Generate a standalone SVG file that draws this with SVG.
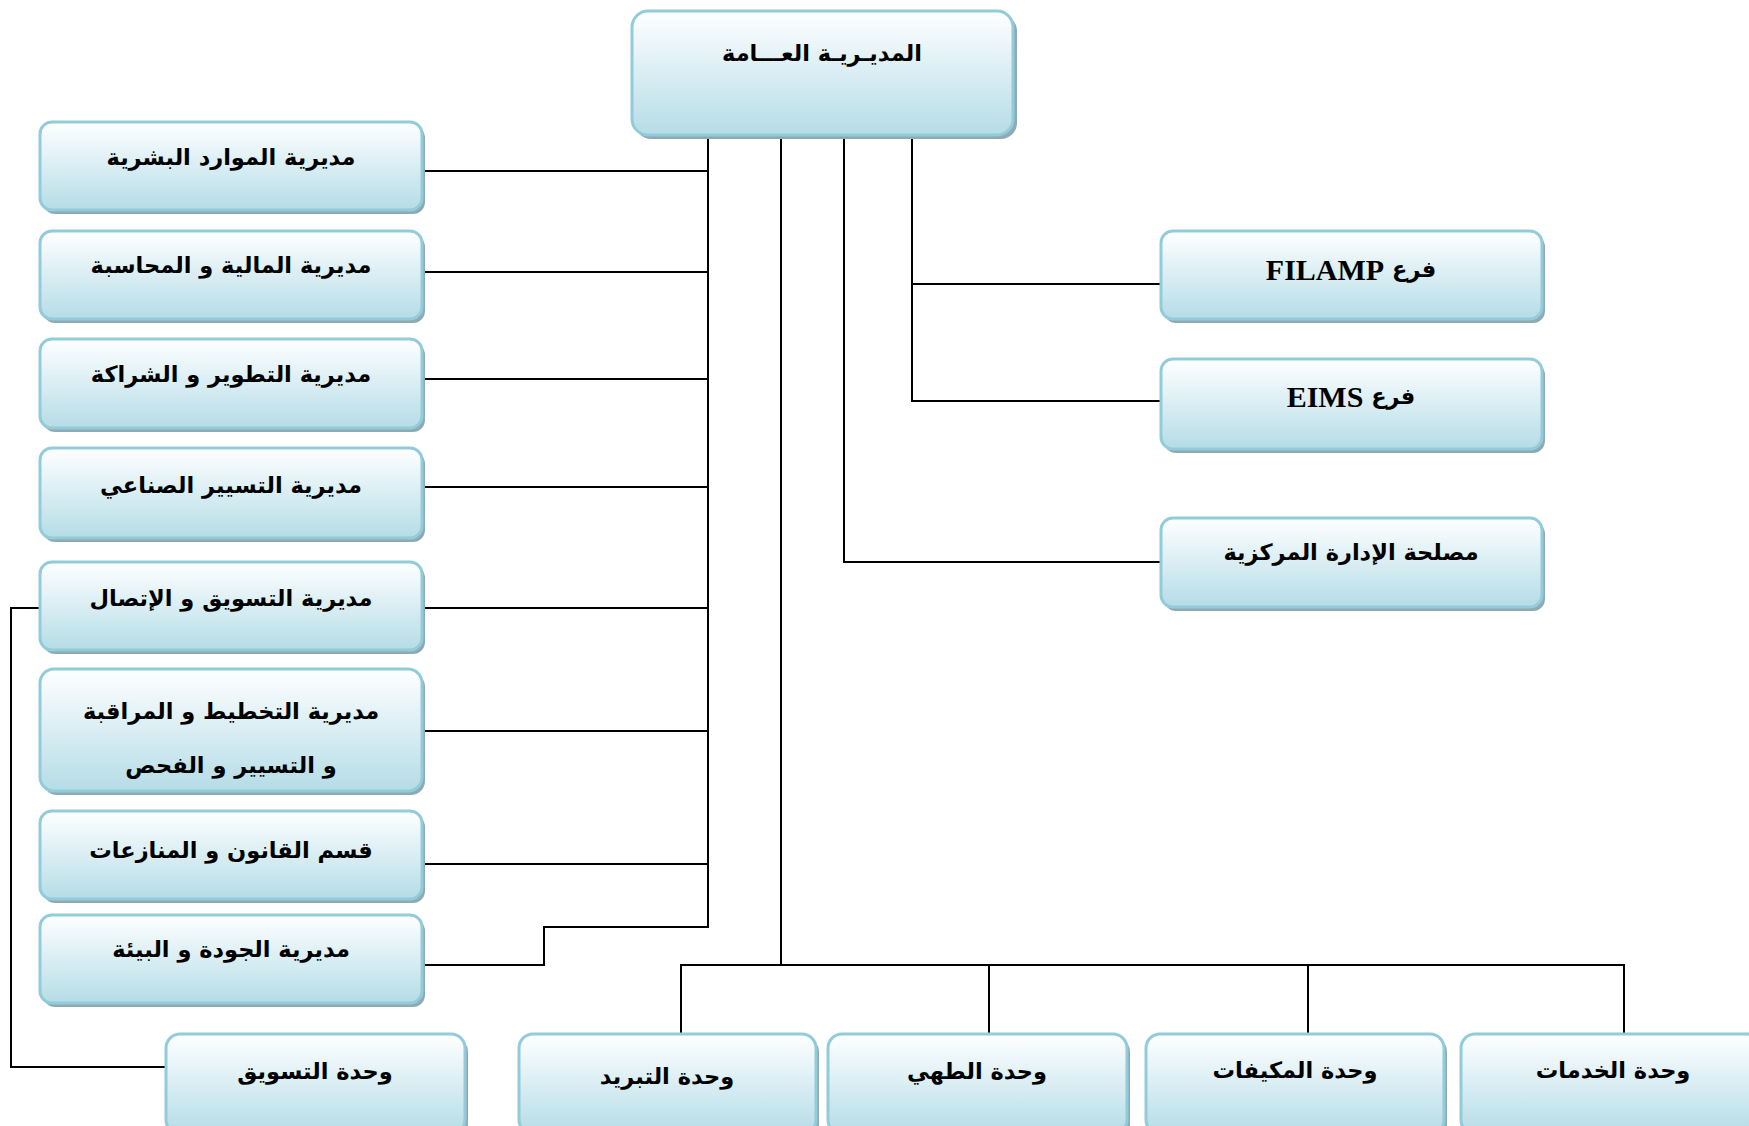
<svg xmlns="http://www.w3.org/2000/svg" width="1749" height="1126" viewBox="0 0 1749 1126">
  <style>
    .box { fill: url(#boxFill); stroke: #92cbd9; stroke-width: 3; }
    .shadow { fill: #8eabb3; }
    .lbl { font-family: "DejaVu Sans", sans-serif; font-size: 22.5px; font-weight: bold; fill: #000; text-anchor: middle; dominant-baseline: central; direction: rtl; }
    .lat { font-family: "Liberation Serif", serif; font-size: 30px; font-weight: bold; }
    .wire { fill: none; stroke: #000; stroke-width: 2; }
  </style>
  <defs>
    <linearGradient id="boxFill" x1="0" y1="0" x2="0" y2="1">
      <stop offset="0" stop-color="#ffffff"/>
      <stop offset="0.55" stop-color="#d6ecf2"/>
      <stop offset="1" stop-color="#b5dce6"/>
    </linearGradient>
  </defs>
  <rect width="1749" height="1126" fill="#ffffff"/>

  <!-- connectors -->
  <g id="connectors">
    <!-- left trunk and branches -->
    <path class="wire" d="M708 137 V927 H544 V965 H422"/>
    <path class="wire" d="M422 171 H708 M422 272 H708 M422 379 H708 M422 487 H708 M422 608 H708 M422 731 H708 M422 864 H708"/>
    <!-- marketing unit link -->
    <path class="wire" d="M40 608 H11 V1067 H166"/>
    <!-- right branches -->
    <path class="wire" d="M912 137 V401 H1161 M912 284 H1161"/>
    <path class="wire" d="M844 137 V562 H1161"/>
    <!-- production units bus -->
    <path class="wire" d="M781 137 V965"/>
    <path class="wire" d="M681 1034 V965 H1624 V1034 M989 965 V1034 M1308 965 V1034"/>
  </g>

  <!-- top node -->
  <g id="n-general">
    <rect class="shadow" x="635" y="15" width="382" height="124" rx="16"/>
    <rect class="box" x="632" y="11" width="381" height="124" rx="16"/>
    <text class="lbl" x="822" y="53" font-size="23.5">المديـريـة العـــامة</text>
  </g>

  <!-- left column -->
  <g id="n-hr">
    <rect class="shadow" x="43" y="126" width="382" height="88" rx="12"/>
    <rect class="box" x="40" y="122" width="382" height="88" rx="12"/>
    <text class="lbl" x="231" y="157">مديرية الموارد البشرية</text>
  </g>
  <g id="n-finance">
    <rect class="shadow" x="43" y="235" width="382" height="88" rx="12"/>
    <rect class="box" x="40" y="231" width="382" height="88" rx="12"/>
    <text class="lbl" x="231" y="265">مديرية المالية و المحاسبة</text>
  </g>
  <g id="n-dev">
    <rect class="shadow" x="43" y="343" width="382" height="89" rx="12"/>
    <rect class="box" x="40" y="339" width="382" height="89" rx="12"/>
    <text class="lbl" x="231" y="374">مديرية التطوير و الشراكة</text>
  </g>
  <g id="n-industrial">
    <rect class="shadow" x="43" y="452" width="382" height="90" rx="12"/>
    <rect class="box" x="40" y="448" width="382" height="90" rx="12"/>
    <text class="lbl" x="231" y="485">مديرية التسيير الصناعي</text>
  </g>
  <g id="n-marketing">
    <rect class="shadow" x="43" y="566" width="382" height="88" rx="12"/>
    <rect class="box" x="40" y="562" width="382" height="88" rx="12"/>
    <text class="lbl" x="231" y="598">مديرية التسويق و الإتصال</text>
  </g>
  <g id="n-planning">
    <rect class="shadow" x="43" y="673" width="382" height="122" rx="14"/>
    <rect class="box" x="40" y="669" width="382" height="122" rx="14"/>
    <text class="lbl" x="231" y="711">مديرية التخطيط و المراقبة</text>
    <text class="lbl" x="231" y="765">و التسيير  و الفحص</text>
  </g>
  <g id="n-legal">
    <rect class="shadow" x="43" y="815" width="382" height="88" rx="12"/>
    <rect class="box" x="40" y="811" width="382" height="88" rx="12"/>
    <text class="lbl" x="231" y="850">قسم القانون و المنازعات</text>
  </g>
  <g id="n-quality">
    <rect class="shadow" x="43" y="919" width="382" height="88" rx="12"/>
    <rect class="box" x="40" y="915" width="382" height="88" rx="12"/>
    <text class="lbl" x="231" y="949">مديرية الجودة و البيئة</text>
  </g>

  <!-- right column -->
  <g id="n-filamp">
    <rect class="shadow" x="1164" y="235" width="381" height="88" rx="12"/>
    <rect class="box" x="1161" y="231" width="381" height="88" rx="12"/>
    <text class="lbl" x="1351" y="269" font-size="26">فرع <tspan class="lat">FILAMP</tspan></text>
  </g>
  <g id="n-eims">
    <rect class="shadow" x="1164" y="363" width="381" height="90" rx="12"/>
    <rect class="box" x="1161" y="359" width="381" height="90" rx="12"/>
    <text class="lbl" x="1351" y="396" font-size="26">فرع <tspan class="lat">EIMS</tspan></text>
  </g>
  <g id="n-admin">
    <rect class="shadow" x="1164" y="522" width="381" height="89" rx="12"/>
    <rect class="box" x="1161" y="518" width="381" height="89" rx="12"/>
    <text class="lbl" x="1351" y="552">مصلحة الإدارة المركزية</text>
  </g>

  <!-- bottom row of units -->
  <g id="n-u-marketing">
    <rect class="shadow" x="169" y="1038" width="299" height="100" rx="14"/>
    <rect class="box" x="166" y="1034" width="299" height="100" rx="14"/>
    <text class="lbl" x="315" y="1071">وحدة التسويق</text>
  </g>
  <g id="n-u-cooling">
    <rect class="shadow" x="522" y="1038" width="297" height="100" rx="14"/>
    <rect class="box" x="519" y="1034" width="297" height="100" rx="14"/>
    <text class="lbl" x="667" y="1076">وحدة التبريد</text>
  </g>
  <g id="n-u-cooking">
    <rect class="shadow" x="831" y="1038" width="299" height="100" rx="14"/>
    <rect class="box" x="828" y="1034" width="299" height="100" rx="14"/>
    <text class="lbl" x="977" y="1071">وحدة الطهي</text>
  </g>
  <g id="n-u-aircon">
    <rect class="shadow" x="1149" y="1038" width="298" height="100" rx="14"/>
    <rect class="box" x="1146" y="1034" width="298" height="100" rx="14"/>
    <text class="lbl" x="1295" y="1070">وحدة المكيفات</text>
  </g>
  <g id="n-u-services">
    <rect class="shadow" x="1464" y="1038" width="300" height="100" rx="14"/>
    <rect class="box" x="1461" y="1034" width="300" height="100" rx="14"/>
    <text class="lbl" x="1613" y="1070">وحدة الخدمات</text>
  </g>
</svg>
